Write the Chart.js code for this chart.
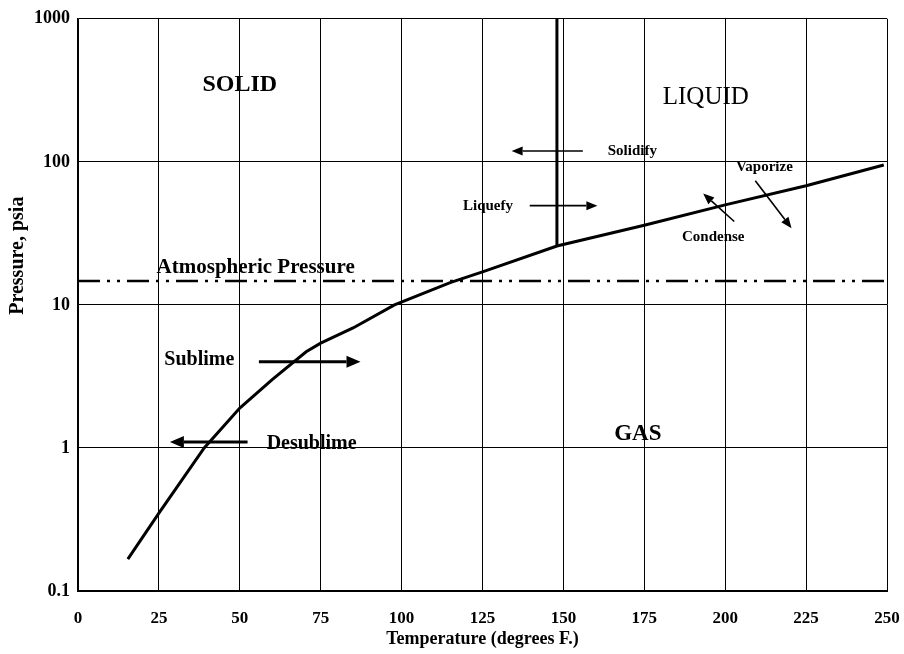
<!DOCTYPE html>
<html>
<head>
<meta charset="utf-8">
<script src="https://cdn.jsdelivr.net/npm/chart.js@4.4.0/dist/chart.umd.min.js"></script>
<style>
    html, body { margin: 0; padding: 0; background: #fff; }
</style>
</head>
<body>
<canvas id="phaseChart" width="904" height="654"></canvas>
<script>
// sublimation / vaporization curve (deg F, psia)
const curveTemps = [15.4, 25, 39, 50, 60, 70.5, 75, 85, 97.8, 115, 125, 148, 175, 200, 225, 249];
const curvePressures = [0.167, 0.35, 1.0, 1.9, 3.0, 4.7, 5.4, 6.9, 10, 14.3, 17, 25.8, 36, 50, 68, 95];

// melting line above the triple point
const meltTemps = [148, 148];
const meltPressures = [25.8, 1000];

// atmospheric pressure line
const atmTemps = [0, 250];
const atmPressures = [14.7, 14.7];

const xTicks = [0, 25, 50, 75, 100, 125, 150, 175, 200, 225, 250];
const yTicks = [0.1, 1, 10, 100, 1000];
const yTickLabels = ['0.1', '1', '10', '100', '1000'];

// phase names
const regionNames = ['SOLID', 'LIQUID', 'GAS'];
const regionTemps = [50, 194, 173];
const regionPressures = [345, 280, 1.25];

// process labels
const noteNames = ['Solidify', 'Liquefy', 'Vaporize', 'Condense', 'Atmospheric Pressure', 'Sublime', 'Desublime'];
const noteTemps = [171.3, 126.7, 212.1, 196.3, 54.9, 37.5, 72.2];
const notePressures = [119, 49.4, 92, 29.7, 18.1, 4.14, 1.07];

// arrows: start / end in (deg F, psia)
const arrowFromTemps = [156, 139.6, 209.3, 202.8, 55.9, 52.4];
const arrowFromPressures = [119, 49.4, 73.8, 38.3, 4.0, 1.1];
const arrowToTemps = [134, 160.5, 220.5, 193.2, 87.3, 28.4];
const arrowToPressures = [119, 49.4, 34.3, 60, 4.0, 1.1];

const yTitle = 'Pressure, psia';

const SERIF = '"Liberation Serif", "Times New Roman", serif';

const noteStyle = {
    'SOLID': 'bold 24px ' + SERIF,
    'LIQUID': '25px ' + SERIF,
    'GAS': 'bold 23px ' + SERIF,
    'Atmospheric Pressure': 'bold 21px ' + SERIF,
    'Sublime': 'bold 20px ' + SERIF,
    'Desublime': 'bold 20px ' + SERIF
};

function drawArrow(ctx, x1, y1, x2, y2, heavy) {
    const lw = heavy ? 3 : 1.6;
    const head = heavy ? 14 : 11;
    const half = heavy ? 6 : 4.5;
    const ang = Math.atan2(y2 - y1, x2 - x1);
    const bx = x2 - head * Math.cos(ang);
    const by = y2 - head * Math.sin(ang);
    ctx.lineWidth = lw;
    ctx.beginPath();
    ctx.moveTo(x1, y1);
    ctx.lineTo(bx, by);
    ctx.stroke();
    ctx.beginPath();
    ctx.moveTo(x2, y2);
    ctx.lineTo(bx + half * Math.sin(ang), by - half * Math.cos(ang));
    ctx.lineTo(bx - half * Math.sin(ang), by + half * Math.cos(ang));
    ctx.closePath();
    ctx.fill();
}

const phaseNotes = {
    id: 'phaseNotes',
    afterDatasetsDraw(chart) {
        const { ctx, chartArea, scales: { x, y } } = chart;
        ctx.save();
        ctx.fillStyle = '#000';
        ctx.strokeStyle = '#000';
        ctx.textAlign = 'center';
        ctx.textBaseline = 'middle';

        regionNames.forEach((name, i) => {
            ctx.font = noteStyle[name];
            ctx.fillText(name, x.getPixelForValue(regionTemps[i]), y.getPixelForValue(regionPressures[i]));
        });

        noteNames.forEach((name, i) => {
            ctx.font = noteStyle[name] || ('bold 15px ' + SERIF);
            ctx.fillText(name, x.getPixelForValue(noteTemps[i]), y.getPixelForValue(notePressures[i]));
        });

        arrowFromTemps.forEach((t, i) => {
            drawArrow(ctx,
                x.getPixelForValue(t), y.getPixelForValue(arrowFromPressures[i]),
                x.getPixelForValue(arrowToTemps[i]), y.getPixelForValue(arrowToPressures[i]),
                i >= 4);
        });

        // y axis title sits above the middle in the original
        ctx.translate(18, chartArea.top + chartArea.height * 0.414);
        ctx.rotate(-Math.PI / 2);
        ctx.font = 'bold 20px ' + SERIF;
        ctx.fillText(yTitle, 0, 0);
        ctx.restore();
    }
};

const toPoints = (xs, ys) => xs.map((v, i) => ({ x: v, y: ys[i] }));

new Chart(document.getElementById('phaseChart').getContext('2d'), {
    type: 'line',
    data: {
        datasets: [
            { data: toPoints(curveTemps, curvePressures), borderColor: '#000', borderWidth: 3, pointRadius: 0, tension: 0 },
            { data: toPoints(meltTemps, meltPressures), borderColor: '#000', borderWidth: 3, pointRadius: 0 },
            { data: toPoints(atmTemps, atmPressures), borderColor: '#000', borderWidth: 2.5, pointRadius: 0, borderDash: [22, 7, 3, 7, 3, 7] }
        ]
    },
    options: {
        responsive: false,
        animation: false,
        layout: { padding: { top: 18, right: 17, left: 0, bottom: 0 } },
        plugins: { legend: { display: false }, tooltip: { enabled: false } },
        scales: {
            x: {
                type: 'linear',
                min: 0,
                max: 250,
                afterBuildTicks: (scale) => { scale.ticks = xTicks.map(v => ({ value: v })); },
                afterFit: (scale) => { scale.height = 63; },
                ticks: { color: '#000', font: { family: SERIF, size: 17, weight: 'bold' }, padding: 2, maxRotation: 0 },
                grid: { color: '#000', lineWidth: 1, drawTicks: true, tickLength: 15, tickColor: 'rgba(0,0,0,0)' },
                border: { color: '#000', width: 2 },
                title: {
                    display: true,
                    text: 'Temperature (degrees F.)',
                    color: '#000',
                    font: { family: SERIF, size: 18, weight: 'bold' },
                    padding: { top: 0, bottom: 4 }
                }
            },
            y: {
                type: 'logarithmic',
                min: 0.1,
                max: 1000,
                afterBuildTicks: (scale) => { scale.ticks = yTicks.map(v => ({ value: v })); },
                afterFit: (scale) => { scale.width = 78; },
                ticks: {
                    color: '#000',
                    font: { family: SERIF, size: 18, weight: 'bold' },
                    padding: 8,
                    callback: (value) => yTickLabels[yTicks.indexOf(value)] ?? ''
                },
                grid: { color: '#000', lineWidth: 1, drawTicks: false },
                border: { color: '#000', width: 1.5 }
            }
        }
    },
    plugins: [phaseNotes]
});
</script>
</body>
</html>
